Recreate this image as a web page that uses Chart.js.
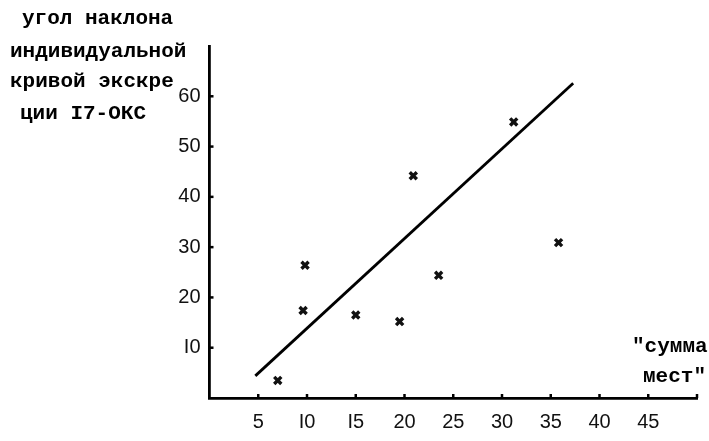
<!DOCTYPE html>
<html><head><meta charset="utf-8">
<script src="https://cdn.jsdelivr.net/npm/chart.js@4/dist/chart.umd.min.js"></script>
<style>html,body{margin:0;padding:0;background:#fff;}canvas{display:block;}</style>
</head><body>
<canvas id="c" width="709" height="441"></canvas>
<script>
// Data
const pointsX = [7.0, 9.6, 9.8, 15.0, 19.5, 20.9, 23.5, 31.2, 35.8];
const pointsY = [3.5, 17.4, 26.4, 16.5, 15.2, 44.2, 24.4, 54.9, 30.9];
const lineX = [4.7, 37.3];
const lineY = [4.4, 62.6];
const xTickValues = [5, 10, 15, 20, 25, 30, 35, 40, 45, 50];
const xTickLabels = ["5", "I0", "I5", "20", "25", "30", "35", "40", "45", ""];
const yTickValues = [10, 20, 30, 40, 50, 60];
const yTickLabels = ["I0", "20", "30", "40", "50", "60"];
const yTitleLines = ["угол наклона", "индивидуальной", "кривой экскре", "ции I7-ОКС"];
const xTitleLines = ["\"сумма", "мест\""];

const scatterData = pointsX.map((x, i) => ({x, y: pointsY[i]}));
const lineData = lineX.map((x, i) => ({x, y: lineY[i]}));

const labelFor = (vals, labs) => (v) => {
  const i = vals.indexOf(v);
  return i >= 0 ? labs[i] : '';
};

const decor = {
  id: 'decor',
  afterDraw(chart) {
    const ctx = chart.ctx;
    const xs = chart.scales.x, ys = chart.scales.y;
    const y0 = ys.getPixelForValue(0), x0 = xs.getPixelForValue(0);
    ctx.save();
    ctx.fillStyle = '#000';
    ctx.strokeStyle = '#000';
    ctx.lineWidth = 2.5;
    // inner tick marks
    xTickValues.forEach(v => {
      const px = xs.getPixelForValue(v);
      ctx.beginPath(); ctx.moveTo(px, y0); ctx.lineTo(px, y0 - 4); ctx.stroke();
    });
    yTickValues.forEach(v => {
      const py = ys.getPixelForValue(v);
      ctx.beginPath(); ctx.moveTo(x0, py); ctx.lineTo(x0 + 4, py); ctx.stroke();
    });
    // titles
    ctx.font = 'bold 21px "Liberation Mono", "DejaVu Sans Mono", monospace';
    ctx.textBaseline = 'middle';
    ctx.textAlign = 'left';
    const tx = [22, 10, 10, 20];
    const ty = [19, 52, 82, 114];
    yTitleLines.forEach((s, i) => ctx.fillText(s, tx[i], ty[i]));
    ctx.fillText(xTitleLines[0], 632, 347);
    ctx.fillText(xTitleLines[1], 643, 377);
    ctx.restore();
  }
};

new Chart(document.getElementById('c'), {
  type: 'scatter',
  data: {
    datasets: [
      {
        type: 'scatter',
        data: scatterData,
        pointStyle: 'crossRot',
        pointRadius: 5,
        pointBorderWidth: 3.4,
        borderColor: '#111',
        backgroundColor: '#111'
      },
      {
        type: 'line',
        data: lineData,
        borderColor: '#000',
        borderWidth: 2.8,
        pointRadius: 0,
        fill: false
      }
    ]
  },
  options: {
    responsive: false,
    animation: false,
    devicePixelRatio: 1,
    layout: {padding: {left: 0, top: 46, right: 6, bottom: 0}},
    plugins: {legend: {display: false}, tooltip: {enabled: false}},
    scales: {
      x: {
        type: 'linear', min: 0, max: 50,
        afterBuildTicks: (s) => { s.ticks = xTickValues.map(v => ({value: v})); },
        afterFit: (s) => { s.height = 43; },
        grid: {display: false, drawTicks: false},
        border: {display: true, color: '#000', width: 2.8},
        ticks: {
          color: '#111', padding: 12,
          font: {family: '"Liberation Sans", Arial, sans-serif', size: 20},
          callback: labelFor(xTickValues, xTickLabels),
          maxRotation: 0, autoSkip: false
        }
      },
      y: {
        type: 'linear', min: 0, max: 70,
        afterBuildTicks: (s) => { s.ticks = yTickValues.map(v => ({value: v})); },
        afterFit: (s) => { s.width = 209.5; },
        grid: {display: false, drawTicks: false},
        border: {display: true, color: '#000', width: 2.8},
        ticks: {
          color: '#111', padding: 9,
          font: {family: '"Liberation Sans", Arial, sans-serif', size: 20},
          callback: labelFor(yTickValues, yTickLabels),
          autoSkip: false
        }
      }
    }
  },
  plugins: [decor]
});
</script>
</body></html>
